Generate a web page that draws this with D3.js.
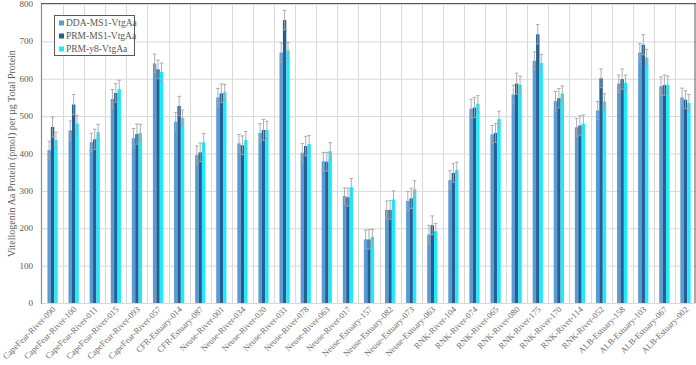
<!DOCTYPE html>
<html><head><meta charset="utf-8">
<script src="https://cdn.jsdelivr.net/npm/d3@7"></script>
<style>body{margin:0;background:#fff}svg{display:block}</style>
</head><body><svg id="c" width="696" height="365"></svg>
<script>
const categories = ["CapeFear-River-090","CapeFear-River-100","CapeFear-River-011","CapeFear-River-015","CapeFear-River-093","CapeFear-River-057","CFR-Estuary-014","CFR-Estuary-087","Neuse-River-001","Neuse-River-034","Neuse-River-020","Neuse-River-031","Neuse-River-078","Neuse-River-063","Neuse-River-017","Neuse-Estuary-157","Neuse-Estuary-082","Neuse-Estuary-073","Neuse-Estuary-063","RNK-River-104","RNK-River-074","RNK-River-065","RNK-River-080","RNK-River-175","RNK-River-170","RNK-River-114","RNK-River-052","ALB-Estuary-158","ALB-Estuary-103","ALB-Estuary-067","ALB-Estuary-002"];
const seriesNames = ["DDA-MS1-VtgAa","PRM-MS1-VtgAa","PRM-y8-VtgAa"];
const ddaMS1 = [409,462,430,546,441,641,485,396,550,427,455,670,402,379,286,170,249,273,183,329,520,451,558,648,540,470,515,587,670,580,550];
const prmMS1 = [471,531,438,562,452,625,527,403,561,422,463,757,420,378,283,170,249,280,208,348,523,455,587,719,548,475,601,599,691,583,544];
const prmY8  = [436,480,457,572,455,618,495,430,564,436,463,676,425,406,310,177,277,304,192,356,533,492,584,642,560,480,539,589,657,584,535];
const ddaErr = [24,25,24,25,26,25,25,24,24,24,25,26,25,24,22,25,24,25,25,25,25,24,25,24,26,24,24,23,24,25,25];
const prmErr = [27,27,27,25,27,25,26,25,25,25,28,26,26,25,24,26,25,27,25,25,27,25,28,26,26,26,25,27,27,27,24];
const y8Err  = [21,22,21,24,23,24,21,24,21,23,23,21,23,23,23,20,23,23,21,21,22,21,23,23,21,23,21,21,22,23,23];
const yTicks = [0,100,200,300,400,500,600,700,800];
const colors = ["#5B9BD5","#255E91","#1DE9FF"];

const values = [ddaMS1, prmMS1, prmY8];
const errs = [ddaErr, prmErr, y8Err];
const svg = d3.select("#c");
const L = 42, R = 696, T = 4, B = 303;
const x0 = d3.scaleBand().domain(categories).range([L, R]).padding(0);
const x1 = d3.scaleBand().domain(seriesNames).range([0, x0.bandwidth()]).paddingInner(0).paddingOuter(1.6);
const y = d3.scaleLinear().domain([0, 800]).range([B, T]);
const font = "'Liberation Serif','Times New Roman',serif";

// horizontal grid
svg.append("g").selectAll("line").data(yTicks).join("line")
  .attr("x1", L).attr("x2", R).attr("y1", d => y(d)+0.5).attr("y2", d => y(d)+0.5)
  .attr("stroke", "#d9d9d9").attr("stroke-width", 1);
// vertical grid
svg.append("g").selectAll("line").data(categories.slice(1)).join("line")
  .attr("x1", d => Math.round(x0(d))+0.5).attr("x2", d => Math.round(x0(d))+0.5)
  .attr("y1", T).attr("y2", B)
  .attr("stroke", "#d9d9d9").attr("stroke-width", 1);

// bars
const groups = svg.append("g").selectAll("g").data(categories).join("g")
  .attr("transform", d => `translate(${x0(d)},0)`);
seriesNames.forEach((s, si) => {
  groups.append("rect")
    .attr("x", x1(s)).attr("width", x1.bandwidth())
    .attr("y", (d, i) => y(values[si][i]))
    .attr("height", (d, i) => B - y(values[si][i]))
    .attr("fill", colors[si]);
});
// error bars
seriesNames.forEach((s, si) => {
  const cx = x1(s) + x1.bandwidth()/2;
  groups.append("line")
    .attr("x1", cx).attr("x2", cx)
    .attr("y1", (d, i) => y(values[si][i] - errs[si][i]))
    .attr("y2", (d, i) => y(values[si][i] + errs[si][i]))
    .attr("stroke", "#a6a6a6").attr("stroke-width", 0.9);
  [1, -1].forEach(sg => {
    groups.append("line")
      .attr("x1", cx-1.8).attr("x2", cx+1.8)
      .attr("y1", (d, i) => y(values[si][i] + sg*errs[si][i]))
      .attr("y2", (d, i) => y(values[si][i] + sg*errs[si][i]))
      .attr("stroke", "#a6a6a6").attr("stroke-width", 0.9);
  });
});

// frame: left axis + top border
svg.append("line").attr("x1", L-0.5).attr("x2", L-0.5).attr("y1", T).attr("y2", B+1)
  .attr("stroke", "#8c8c8c").attr("stroke-width", 1.2);
svg.append("line").attr("x1", L-1).attr("x2", R).attr("y1", T-0.5).attr("y2", T-0.5)
  .attr("stroke", "#595959").attr("stroke-width", 1.2);
svg.append("line").attr("x1", R-1).attr("x2", R-1).attr("y1", T-1).attr("y2", B)
  .attr("stroke", "#595959").attr("stroke-width", 1);
svg.append("line").attr("x1", L).attr("x2", R).attr("y1", B+0.5).attr("y2", B+0.5)
  .attr("stroke", "#d9d9d9").attr("stroke-width", 1);

// y axis labels
svg.append("g").selectAll("text").data(yTicks).join("text")
  .attr("x", 33).attr("y", d => y(d)+3)
  .attr("text-anchor", "end").attr("font-family", font).attr("font-size", 9)
  .attr("fill", "#595959").text(d => d);

// y axis title
svg.append("text")
  .attr("transform", `translate(15,${(T+B)/2}) rotate(-90)`)
  .attr("text-anchor", "middle").attr("font-family", font).attr("font-size", 10)
  .attr("fill", "#595959").text("Vitellogenin Aa Protein (pmol) per µg Total Protein");

// x labels
svg.append("g").selectAll("text").data(categories).join("text")
  .attr("transform", d => `translate(${x0(d)+x0.bandwidth()/2+3.5},${B+7}) rotate(-45)`)
  .attr("text-anchor", "end").attr("font-family", font).attr("font-size", 8.6)
  .attr("fill", "#6a6a6a").text(d => d);

// legend
const lg = svg.append("g");
lg.append("rect").attr("x", 54.5).attr("y", 15.5).attr("width", 80).attr("height", 40)
  .attr("fill", "#fff").attr("stroke", "#595959").attr("stroke-width", 1);
seriesNames.forEach((s, i) => {
  const yy = 23 + i*13;
  lg.append("rect").attr("x", 59).attr("y", yy-2.5).attr("width", 5).attr("height", 5).attr("fill", colors[i]);
  lg.append("text").attr("x", 66).attr("y", yy+3.3).attr("font-family", font).attr("font-size", 9.5)
    .attr("fill", "#595959").text(s);
});
</script></body></html>
